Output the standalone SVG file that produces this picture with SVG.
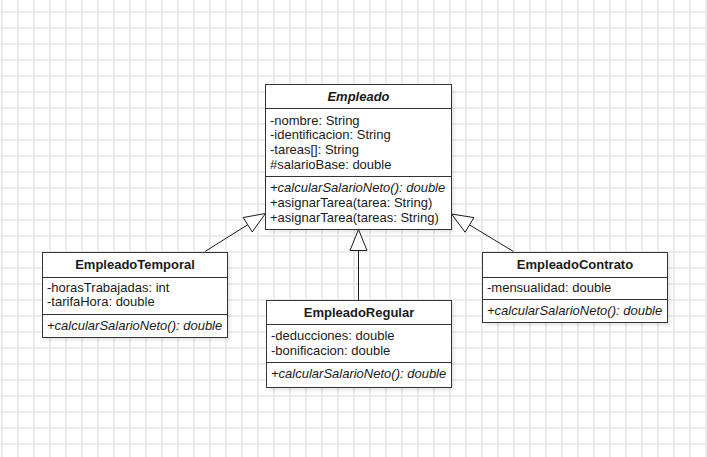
<svg xmlns="http://www.w3.org/2000/svg" width="707" height="457" viewBox="0 0 707 457">
<defs>
<pattern id="grid" x="0" y="0" width="16" height="16" patternUnits="userSpaceOnUse">
<path d="M2 0V16M0 12H16" stroke="#ebebeb" stroke-width="2" fill="none"/>
</pattern>
<filter id="sh" x="-10%" y="-10%" width="130%" height="130%">
<feGaussianBlur stdDeviation="1.5"/>
</filter>
<style>
.box{fill:#ffffff;stroke:#333333;stroke-width:1}
.shadow{fill:#000000;opacity:0.09}
.sep{stroke:#333333;stroke-width:1}
text{font-family:"Liberation Sans",Arial,sans-serif;font-size:13px;fill:#1a1a1a}
.title{font-weight:bold;text-anchor:middle}
.it{font-style:italic}
.edge{stroke:#1a1a1a;stroke-width:1;fill:none}
.head{fill:#ffffff;stroke:#1a1a1a;stroke-width:1}
</style>
</defs>
<rect x="0" y="0" width="707" height="457" fill="#ffffff"/>
<rect x="0" y="0" width="707" height="457" fill="url(#grid)"/>

<g id="connectors">
<line class="edge" x1="205" y1="251.5" x2="247.7" y2="224.7"/>
<polygon class="head" points="265.5,213.5 252.2,231.9 243.2,217.5"/>
<line class="edge" x1="358.5" y1="300" x2="358.5" y2="250.5"/>
<polygon class="head" points="358.5,229.5 367,250.5 350,250.5"/>
<line class="edge" x1="513.5" y1="251.5" x2="469.5" y2="224.9"/>
<polygon class="head" points="451.5,214 473.9,217.6 465.1,232.2"/>
</g>

<g id="Empleado">
<rect class="shadow" filter="url(#sh)" x="268.5" y="87.5" width="186" height="145"/>
<rect class="box" x="265.5" y="84.5" width="186" height="145"/>
<line class="sep" x1="265.5" y1="108.5" x2="451.5" y2="108.5"/>
<line class="sep" x1="265.5" y1="176.5" x2="451.5" y2="176.5"/>
<text class="title it" x="358.5" y="101">Empleado</text>
<text x="270" y="124.5">-nombre: String</text>
<text x="270" y="139.2">-identificacion: String</text>
<text x="270" y="153.9">-tareas[]: String</text>
<text x="270" y="168.6">#salarioBase: double</text>
<text class="it" x="270" y="191.5">+calcularSalarioNeto(): double</text>
<text x="270" y="206.5">+asignarTarea(tarea: String)</text>
<text x="270" y="221.5">+asignarTarea(tareas: String)</text>
</g>

<g id="EmpleadoTemporal">
<rect class="shadow" filter="url(#sh)" x="45.5" y="255.5" width="185" height="85"/>
<rect class="box" x="42.5" y="252.5" width="185" height="85"/>
<line class="sep" x1="42.5" y1="277.5" x2="227.5" y2="277.5"/>
<line class="sep" x1="42.5" y1="314.5" x2="227.5" y2="314.5"/>
<text class="title" x="135" y="269">EmpleadoTemporal</text>
<text x="47" y="291.5">-horasTrabajadas: int</text>
<text x="47" y="306">-tarifaHora: double</text>
<text class="it" x="47" y="329.5">+calcularSalarioNeto(): double</text>
</g>

<g id="EmpleadoRegular">
<rect class="shadow" filter="url(#sh)" x="269.5" y="303.5" width="185" height="87"/>
<rect class="box" x="266.5" y="300.5" width="185" height="87"/>
<line class="sep" x1="266.5" y1="324.5" x2="451.5" y2="324.5"/>
<line class="sep" x1="266.5" y1="362.5" x2="451.5" y2="362.5"/>
<text class="title" x="359" y="316.5">EmpleadoRegular</text>
<text x="271" y="340">-deducciones: double</text>
<text x="271" y="354.5">-bonificacion: double</text>
<text class="it" x="271" y="377.5">+calcularSalarioNeto(): double</text>
</g>

<g id="EmpleadoContrato">
<rect class="shadow" filter="url(#sh)" x="485.5" y="255.5" width="185" height="70"/>
<rect class="box" x="482.5" y="252.5" width="185" height="70"/>
<line class="sep" x1="482.5" y1="277.5" x2="667.5" y2="277.5"/>
<line class="sep" x1="482.5" y1="299.5" x2="667.5" y2="299.5"/>
<text class="title" x="575" y="269">EmpleadoContrato</text>
<text x="487" y="291.5">-mensualidad: double</text>
<text class="it" x="487" y="314.5">+calcularSalarioNeto(): double</text>
</g>
</svg>
